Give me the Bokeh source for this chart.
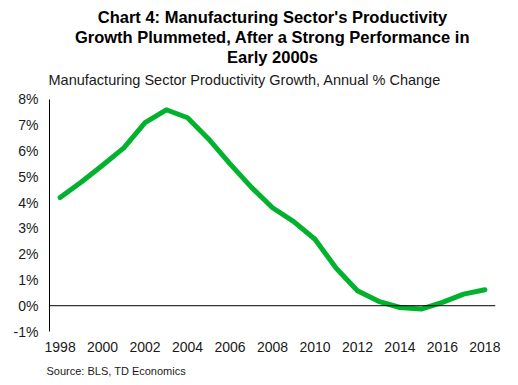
from bokeh.plotting import figure
from bokeh.models import Span, Title, FixedTicker, PrintfTickFormatter, Range1d
from bokeh.embed import file_html
from bokeh.resources import INLINE

years = list(range(1998, 2019))
growth = [4.2, 4.8, 5.45, 6.12, 7.1, 7.6, 7.29, 6.46, 5.5, 4.6, 3.8, 3.26,
          2.58, 1.45, 0.58, 0.17, -0.07, -0.13, 0.13, 0.45, 0.62]
y_ticks = [-1, 0, 1, 2, 3, 4, 5, 6, 7, 8]
x_ticks = list(range(1998, 2019, 2))

title_lines = ["Chart 4: Manufacturing Sector's Productivity",
               "Growth Plummeted, After a Strong Performance in",
               "Early 2000s"]
subtitle = "Manufacturing Sector Productivity Growth, Annual % Change"
source = "Source: BLS, TD Economics"

FONT = "Liberation Sans"
TXT = "#1a1a1a"

p = figure(width=518, height=385, output_backend="svg", toolbar_location=None,
           x_range=Range1d(1997.5, 2018.5), y_range=Range1d(-1, 8.27),
           min_border_left=49, min_border_right=23, min_border_top=92,
           min_border_bottom=54)
p.outline_line_color = None
p.xgrid.visible = False
p.ygrid.visible = False
p.background_fill_color = "white"
p.border_fill_color = "white"

p.yaxis.ticker = FixedTicker(ticks=y_ticks)
p.yaxis.bounds = (y_ticks[0], y_ticks[-1])
p.yaxis.formatter = PrintfTickFormatter(format="%d%%")
p.yaxis.axis_line_color = "black"
p.yaxis.axis_line_width = 1
p.yaxis.major_tick_line_color = None
p.yaxis.minor_tick_line_color = None
p.yaxis.major_tick_out = 0
p.yaxis.major_tick_in = 0
p.yaxis.major_label_standoff = 11
p.yaxis.major_label_text_font = FONT
p.yaxis.major_label_text_font_size = "14px"
p.yaxis.major_label_text_color = TXT

p.xaxis.ticker = FixedTicker(ticks=x_ticks)
p.xaxis.axis_line_color = None
p.xaxis.major_tick_line_color = None
p.xaxis.minor_tick_line_color = None
p.xaxis.major_tick_out = 0
p.xaxis.major_tick_in = 0
p.xaxis.major_label_standoff = 10
p.xaxis.major_label_text_font = FONT
p.xaxis.major_label_text_font_size = "14px"
p.xaxis.major_label_text_color = TXT

p.add_layout(Span(location=0, dimension="width", line_color="black", line_width=1))

p.line(years, growth, line_width=5, line_color="#00B22D", line_join="round", line_cap="round")

# stacked outward from the frame: subtitle first, then title lines bottom-up
p.add_layout(Title(text=subtitle, align="left", offset=-1, standoff=9,
                   text_font=FONT, text_font_size="14.5px", text_font_style="normal",
                   text_color=TXT), "above")
for txt in reversed(title_lines):
    p.add_layout(Title(text=txt, align="center", standoff=0,
                       text_font=FONT, text_font_size="16.5px", text_font_style="bold",
                       text_color="black"), "above")

p.add_layout(Title(text=source, align="left", offset=-3, standoff=16,
                   text_font=FONT, text_font_size="11px", text_font_style="normal",
                   text_color=TXT), "below")

open("out.html", "w").write(file_html(p, INLINE))
